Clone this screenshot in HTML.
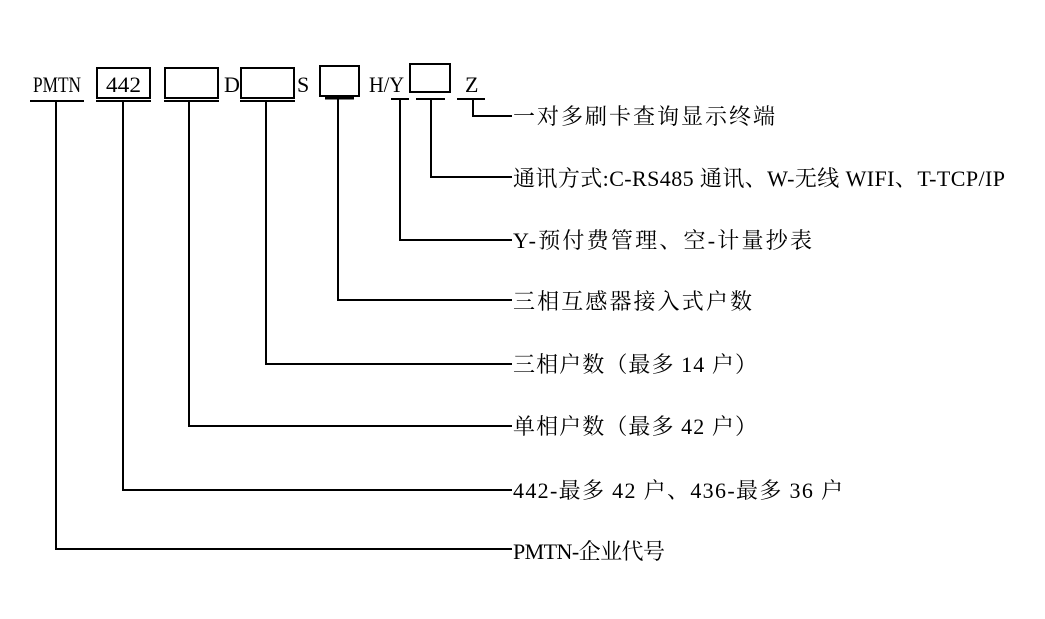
<!DOCTYPE html>
<html><head><meta charset="utf-8"><style>
html,body{margin:0;padding:0;background:#fff;}
svg{display:block;}
text{font-family:"Liberation Serif","Noto Serif CJK SC",serif;font-size:22px;fill:#000;}
</style></head><body>
<svg width="1045" height="619" viewBox="0 0 1045 619" xmlns="http://www.w3.org/2000/svg">
<g fill="none" stroke="#000" stroke-width="2">
<rect x="97" y="68" width="53" height="30"/>
<rect x="165" y="68" width="53" height="30"/>
<rect x="241" y="68" width="53" height="30"/>
<rect x="320" y="66" width="39" height="30"/>
<rect x="410" y="64" width="40" height="28"/>
<line x1="30" y1="101" x2="84" y2="101"/>
<line x1="96" y1="101" x2="151" y2="101"/>
<line x1="164" y1="101" x2="219" y2="101"/>
<line x1="240" y1="101" x2="295" y2="101"/>
<line x1="325" y1="98" x2="354" y2="98" stroke-width="3"/>
<line x1="391" y1="99" x2="409" y2="99"/>
<line x1="416" y1="99" x2="445" y2="99"/>
<line x1="457" y1="99" x2="485" y2="99"/>
<polyline points="56,101 56,549 512,549"/>
<polyline points="123,101 123,490 512,490"/>
<polyline points="189,101 189,426 512,426"/>
<polyline points="266,101 266,364 512,364"/>
<polyline points="338,98 338,300 512,300"/>
<polyline points="400,99 400,240 512,240"/>
<polyline points="431,99 431,177 512,177"/>
<polyline points="473,99 473,116 512,116"/>
</g>
<text x="33" y="92" textLength="48" lengthAdjust="spacingAndGlyphs">PMTN</text>
<text x="106" y="92" textLength="35" lengthAdjust="spacingAndGlyphs">442</text>
<text x="224" y="92">D</text>
<text x="297" y="92">S</text>
<text x="369" y="92" textLength="35" lengthAdjust="spacingAndGlyphs">H/Y</text>
<text x="465" y="92">Z</text>

<text x="513" y="124" textLength="262" lengthAdjust="spacing">一对多刷卡查询显示终端</text>
<text x="513" y="186" textLength="492" lengthAdjust="spacing">通讯方式:C-RS485 通讯、W-无线 WIFI、T-TCP/IP</text>
<text x="513" y="248" textLength="299" lengthAdjust="spacing">Y-预付费管理、空-计量抄表</text>
<text x="513" y="309" textLength="239" lengthAdjust="spacing">三相互感器接入式户数</text>
<text x="513" y="372" textLength="244" lengthAdjust="spacing">三相户数（最多 14 户）</text>
<text x="513" y="434" textLength="244" lengthAdjust="spacing">单相户数（最多 42 户）</text>
<text x="513" y="498" textLength="330" lengthAdjust="spacing">442-最多 42 户、436-最多 36 户</text>
<text x="513" y="559" textLength="152" lengthAdjust="spacing">PMTN-企业代号</text>
</svg>
</body></html>
